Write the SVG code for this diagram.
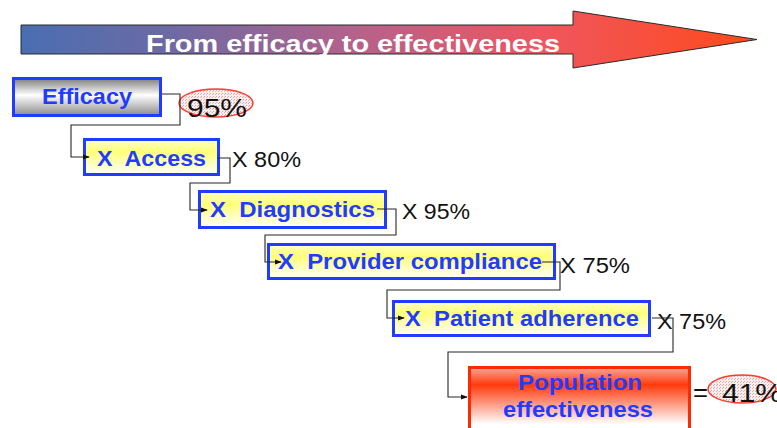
<svg xmlns="http://www.w3.org/2000/svg" width="777" height="428" viewBox="0 0 777 428">
<defs>
<linearGradient id="gTitle" x1="0" y1="0" x2="1" y2="0">
<stop offset="0" stop-color="#4a6eb2"/>
<stop offset="0.2" stop-color="#6c6aa4"/>
<stop offset="0.45" stop-color="#b4628c"/>
<stop offset="0.7" stop-color="#ee5660"/>
<stop offset="1" stop-color="#ff4a1a"/>
</linearGradient>
<linearGradient id="gGray" x1="0" y1="0" x2="0" y2="1">
<stop offset="0" stop-color="#7e7e7e"/>
<stop offset="0.45" stop-color="#ffffff"/>
<stop offset="1" stop-color="#8a8a8a"/>
</linearGradient>
<linearGradient id="gYellow" x1="0" y1="0" x2="0" y2="1">
<stop offset="0" stop-color="#ffffc4"/>
<stop offset="0.35" stop-color="#ffff78"/>
<stop offset="1" stop-color="#ffffff"/>
</linearGradient>
<linearGradient id="gRed" gradientUnits="userSpaceOnUse" x1="0" y1="368" x2="0" y2="424">
<stop offset="0" stop-color="#ffa596"/>
<stop offset="0.3" stop-color="#ff3a0c"/>
<stop offset="1" stop-color="#ffffff"/>
</linearGradient>
<pattern id="pDots" width="3" height="3" patternUnits="userSpaceOnUse">
<rect width="3" height="3" fill="#fbeeee"/>
<rect x="0" y="0" width="1" height="1" fill="#e2a0a0"/>
<rect x="2" y="1" width="1" height="1" fill="#d8b4b4"/>
</pattern>
<marker id="arr" viewBox="0 0 8 8" refX="7" refY="4" markerWidth="7" markerHeight="7" markerUnits="userSpaceOnUse" orient="auto">
<path d="M0,1 L8,4 L0,7 z" fill="#111"/>
</marker>
<style>
.box{stroke:#1f3cff;stroke-width:3}
.lbl{font-family:"Liberation Sans",Arial,sans-serif;font-weight:bold;font-size:22px;fill:#1f3cff}
.val{font-family:"Liberation Sans",Arial,sans-serif;font-size:22px;fill:#111}
.big{font-family:"Liberation Sans",Arial,sans-serif;font-size:25px;fill:#111}
.conn{fill:none;stroke:#262626;stroke-width:1.1}
.oval{fill:url(#pDots);stroke:#ff3b30;stroke-width:1.5}
</style>
</defs>

<g id="title">
<polygon points="21,25 573,25 573,11 757,39.5 573,68 573,54 21,54" fill="url(#gTitle)" stroke="#2a2a2a" stroke-width="1"/>
<text x="353" y="52" text-anchor="middle" textLength="414" lengthAdjust="spacingAndGlyphs" style="font-family:'Liberation Sans',Arial,sans-serif;font-weight:bold;font-size:23px;fill:#ffffff">From efficacy to effectiveness</text>
</g>

<g id="efficacy">
<rect class="box" x="13.5" y="78.5" width="147" height="37" fill="url(#gGray)"/>
<text class="lbl" x="42" y="104" textLength="90" lengthAdjust="spacingAndGlyphs">Efficacy</text>
</g>

<g id="efficacy-value">
<ellipse class="oval" cx="216" cy="103" rx="37" ry="14"/>
<text class="big" x="187" y="117" textLength="60" lengthAdjust="spacingAndGlyphs">95%</text>
</g>

<g id="access">
<rect class="box" x="84.5" y="139.5" width="134" height="35" fill="url(#gYellow)"/>
<text class="lbl" x="97" y="166" textLength="109" lengthAdjust="spacingAndGlyphs" xml:space="preserve">X  Access</text>
</g>
<text id="access-value" class="val" x="232" y="167" textLength="69" lengthAdjust="spacingAndGlyphs">X 80%</text>

<g id="diagnostics">
<rect class="box" x="199.5" y="191.5" width="186" height="36" fill="url(#gYellow)"/>
<text class="lbl" x="210" y="217" textLength="165" lengthAdjust="spacingAndGlyphs" xml:space="preserve">X  Diagnostics</text>
</g>
<text id="diagnostics-value" class="val" x="402" y="219" textLength="68" lengthAdjust="spacingAndGlyphs">X 95%</text>

<g id="provider">
<rect class="box" x="268.5" y="244.5" width="286" height="34" fill="url(#gYellow)"/>
<text class="lbl" x="278" y="269" textLength="264" lengthAdjust="spacingAndGlyphs" xml:space="preserve">X  Provider compliance</text>
</g>
<text id="provider-value" class="val" x="560" y="273" textLength="70" lengthAdjust="spacingAndGlyphs">X 75%</text>

<g id="patient">
<rect class="box" x="393.5" y="301.5" width="256" height="34" fill="url(#gYellow)"/>
<text class="lbl" x="405" y="326" textLength="234" lengthAdjust="spacingAndGlyphs" xml:space="preserve">X  Patient adherence</text>
</g>
<text id="patient-value" class="val" x="657" y="329" textLength="69" lengthAdjust="spacingAndGlyphs">X 75%</text>

<g id="population">
<rect x="469.5" y="367.5" width="220" height="66" fill="url(#gRed)" stroke="#ff2a00" stroke-width="3"/>
<text class="lbl" x="580" y="390" text-anchor="middle" textLength="124" lengthAdjust="spacingAndGlyphs">Population</text>
<text class="lbl" x="578" y="417" text-anchor="middle" textLength="150" lengthAdjust="spacingAndGlyphs">effectiveness</text>
</g>

<g id="population-value">
<text class="big" x="693" y="401" textLength="15" lengthAdjust="spacingAndGlyphs">=</text>
<ellipse class="oval" cx="742" cy="389" rx="34" ry="14"/>
<text class="big" x="722" y="402" textLength="60" lengthAdjust="spacingAndGlyphs">41%</text>
</g>

<g id="connectors">
<path class="conn" d="M162,94 H180 V125 H71 V157 H89" marker-end="url(#arr)"/>
<path class="conn" d="M217,158 H230 V183 H190 V210 H207" marker-end="url(#arr)"/>
<path class="conn" d="M377,209 H396 V235 H265 V262 H281" marker-end="url(#arr)"/>
<path class="conn" d="M542,262 H560 V290 H387 V318 H404" marker-end="url(#arr)"/>
<path class="conn" d="M652,318 H673 V352 H448 V397 H467" marker-end="url(#arr)"/>
</g>
</svg>
